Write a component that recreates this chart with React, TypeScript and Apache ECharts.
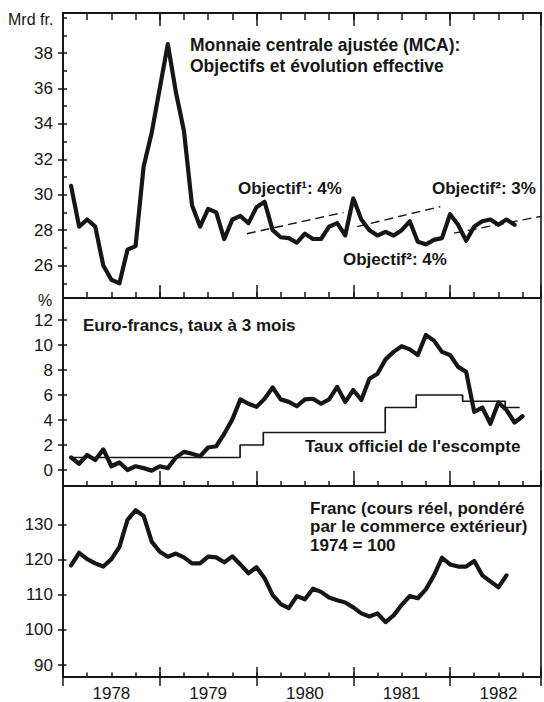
import { useEffect, useRef } from 'react';
import * as echarts from 'echarts';

// ---- Time axis (years, monthly observations at month end) ----
const X_MIN = 1978;
const X_MAX = 1982.94;
const FIRST_YEAR = 1978;
const YEAR_STEP = 1;
const QUARTER_STEP = 0.25;
const yearLabels = ['1978', '1979', '1980', '1981', '1982'];
const yearLabelPositions = [1978.5, 1979.5, 1980.5, 1981.5, 1982.5];

// ---- Panel 1: Monnaie centrale ajustée (Mrd fr.), Jan 1978 – Aug 1982 ----
const mcaValues = [
  30.5, 28.2, 28.6, 28.2, 26.0, 25.2, 25.0, 26.9, 27.1, 31.6, 33.5, 36.0,
  38.5, 35.8, 33.6, 29.4, 28.2, 29.2, 29.0, 27.5, 28.6, 28.8, 28.4, 29.3,
  29.6, 28.0, 27.6, 27.55, 27.3, 27.8, 27.5, 27.5, 28.2, 28.4, 27.7, 29.8,
  28.6, 28.0, 27.7, 27.9, 27.7, 28.0, 28.5, 27.35, 27.2, 27.45, 27.55, 28.9,
  28.3, 27.4, 28.2, 28.5, 28.6, 28.3, 28.6, 28.3,
];
const objectifDates = [
  [1979.9, 1980.9],
  [1981.04, 1981.9],
  [1982.04, 1982.94],
];
const objectifValues = [
  [27.8, 29.0],
  [28.2, 29.33],
  [27.83, 28.78],
];
const mcaLabelTicks = [26, 28, 30, 32, 34, 36, 38];
const mcaUnitTicks = [25, 26, 27, 28, 29, 30, 31, 32, 33, 34, 35, 36, 37, 38, 39, 40];

// ---- Panel 2: Euro-francs 3 mois (%), Jan 1978 – Sep 1982 ----
const euroValues = [
  1.0, 0.5, 1.2, 0.8, 1.65, 0.3, 0.6, 0.0, 0.3, 0.15, -0.05, 0.3,
  0.15, 1.0, 1.45, 1.3, 1.1, 1.8, 1.9, 2.9, 4.05, 5.65, 5.3, 5.05,
  5.7, 6.6, 5.65, 5.45, 5.1, 5.65, 5.7, 5.3, 5.65, 6.65, 5.45, 6.4,
  5.6, 7.3, 7.7, 8.85, 9.45, 9.9, 9.65, 9.2, 10.8, 10.35, 9.45, 9.2,
  8.25, 7.85, 4.65, 5.0, 3.7, 5.4, 4.8, 3.8, 4.3,
];
const escompteDates = [1978.09, 1979.83, 1980.07, 1981.33, 1981.65, 1982.13, 1982.57, 1982.72];
const escompteValues = [1, 2, 3, 5, 6, 5.5, 5, 5];
const euroTicks = [0, 2, 4, 6, 8, 10, 12];

// ---- Panel 3: Franc, cours réel (1974 = 100), Jan 1978 – Jul 1982 ----
const francValues = [
  118.3, 121.9, 120.1, 118.9, 118.0, 120.1, 123.6, 131.3, 134.0, 132.4, 125.1, 122.2,
  120.8, 121.7, 120.6, 118.9, 118.9, 120.8, 120.6, 119.2, 120.9, 118.6, 116.1, 117.8,
  114.7, 109.9, 107.3, 106.2, 109.6, 108.7, 111.7, 110.8, 109.2, 108.4, 107.8, 106.4,
  104.7, 103.8, 104.7, 102.2, 104.1, 107.1, 109.6, 109.0, 111.5, 115.5, 120.5, 118.6,
  118.0, 118.0, 119.6, 115.5, 113.8, 112.1, 115.5,
];
const francTicks = [90, 100, 110, 120, 130];

const INK = '#161616';
const FONT = '"Liberation Sans", Arial, Helvetica, sans-serif';

const monthly = (vals: number[]) => vals.map((v, i) => [FIRST_YEAR + (i + 1) / 12, v]);

export default function App() {
  const ref = useRef<HTMLDivElement>(null);
  useEffect(() => {
    if (!ref.current) return;
    const chart = echarts.init(ref.current, undefined, { renderer: 'svg' });

    const gridDefs = [
      { top: 13, height: 285 },
      { top: 298, height: 188 },
      { top: 486, height: 195 },
    ];
    const grid = gridDefs.map((g) => ({
      left: 63,
      right: 3,
      top: g.top,
      height: g.height,
      show: true,
      borderColor: INK,
      borderWidth: 1.6,
      backgroundColor: 'transparent',
    }));

    const axisLine = { show: true, onZero: false, lineStyle: { color: INK, width: 1.6 } };

    const xAx = (
      gridIndex: number,
      position: string,
      interval: number,
      len: number,
      inside: boolean,
      label = false
    ) => ({
      type: 'value',
      gridIndex,
      position,
      min: X_MIN,
      max: X_MAX,
      interval,
      axisLine,
      splitLine: { show: false },
      axisTick: len > 0
        ? { show: true, inside, length: len, lineStyle: { color: INK, width: 1.5 } }
        : { show: false },
      axisLabel: label
        ? {
            show: true,
            customValues: yearLabelPositions,
            formatter: (v: number) => yearLabels[yearLabelPositions.indexOf(v)] ?? '',
            fontSize: 17,
            fontFamily: FONT,
            color: INK,
            margin: 8,
          }
        : { show: false },
    });

    const xAxis = [
      xAx(0, 'bottom', QUARTER_STEP, 6, true), // 0 (series axis, panel 1)
      xAx(0, 'bottom', YEAR_STEP, 13, true), // 1
      xAx(0, 'top', QUARTER_STEP, 7, true), // 2
      xAx(0, 'top', YEAR_STEP, 13, true), // 3
      xAx(1, 'bottom', QUARTER_STEP, 5, true), // 4 (series axis, panel 2)
      xAx(1, 'bottom', YEAR_STEP, 15, true), // 5
      xAx(2, 'bottom', QUARTER_STEP, 4.5, true), // 6 (series axis, panel 3)
      xAx(2, 'bottom', YEAR_STEP, 10, true), // 7
      xAx(2, 'bottom', YEAR_STEP, 9, false), // 8
      xAx(2, 'bottom', YEAR_STEP, 0, false, true), // 9 labels
    ];

    const yAx = (
      gridIndex: number,
      min: number,
      max: number,
      ticks: number[],
      inside: boolean,
      len: number,
      label: boolean
    ) => ({
      type: 'value',
      gridIndex,
      position: 'left',
      min,
      max,
      axisLine,
      splitLine: { show: false },
      axisTick: { show: true, inside, length: len, customValues: ticks, lineStyle: { color: INK, width: 1.5 } },
      axisLabel: label
        ? { show: true, customValues: ticks, fontSize: 17, fontFamily: FONT, color: INK, margin: 10 }
        : { show: false },
    });

    const yAxis = [
      yAx(0, 24.17, 40.26, mcaLabelTicks, false, 5, true), // 0
      yAx(0, 24.17, 40.26, mcaUnitTicks, true, 4, false), // 1
      yAx(1, -1.28, 13.76, euroTicks, false, 5, true), // 2
      yAx(1, -1.28, 13.76, euroTicks, true, 4, false), // 3
      yAx(2, 86.6, 140.9, francTicks, false, 5, true), // 4
      yAx(2, 86.6, 140.9, francTicks, true, 3.5, false), // 5
    ];

    const thick = { color: INK, width: 4.2, cap: 'round', join: 'round' };

    const series: any[] = [
      {
        type: 'line',
        name: 'MCA',
        xAxisIndex: 0,
        yAxisIndex: 0,
        data: monthly(mcaValues),
        symbol: 'none',
        lineStyle: thick,
        z: 5,
      },
      ...objectifDates.map((d, k) => ({
        type: 'line',
        name: 'Objectif ' + (k + 1),
        xAxisIndex: 0,
        yAxisIndex: 0,
        data: [
          [d[0], objectifValues[k][0]],
          [d[1], objectifValues[k][1]],
        ],
        symbol: 'none',
        lineStyle: { color: INK, width: 1.4, type: [9, 5] },
        z: 3,
      })),
      {
        type: 'line',
        name: 'Euro-francs',
        xAxisIndex: 4,
        yAxisIndex: 2,
        data: monthly(euroValues),
        symbol: 'none',
        lineStyle: thick,
        z: 5,
      },
      {
        type: 'line',
        name: 'Taux officiel',
        xAxisIndex: 4,
        yAxisIndex: 2,
        step: 'end',
        data: escompteDates.map((d, i) => [d, escompteValues[i]]),
        symbol: 'none',
        lineStyle: { color: INK, width: 1.7 },
        z: 4,
      },
      {
        type: 'line',
        name: 'Franc',
        xAxisIndex: 6,
        yAxisIndex: 4,
        data: monthly(francValues),
        symbol: 'none',
        lineStyle: thick,
        z: 5,
      },
    ];

    const txt = (text: string, x: number, y: number, size: number, bold: boolean) => ({
      type: 'text',
      x,
      y,
      z: 10,
      style: {
        text,
        fill: INK,
        font: `${bold ? 'bold ' : ''}${size}px ${FONT}`,
        align: 'left',
        verticalAlign: 'middle',
        textAlign: 'left',
        textVerticalAlign: 'middle',
      },
    });

    const graphic = [
      txt('Mrd fr.', 8, 19.5, 16, false),
      txt('Monnaie centrale ajustée (MCA):', 190, 45, 17.5, true),
      txt('Objectifs et évolution effective', 190, 66, 17.5, true),
      txt('Objectif¹: 4%', 238, 188, 17, true),
      txt('Objectif²: 3%', 432, 188, 17, true),
      txt('Objectif²: 4%', 343, 259, 17, true),
      txt('%', 38, 300, 16, false),
      txt('Euro-francs, taux à 3 mois', 83, 325, 17, true),
      txt("Taux officiel de l'escompte", 305, 446, 17, true),
      txt('Franc (cours réel, pondéré', 310, 508, 17, true),
      txt('par le commerce extérieur)', 310, 526.5, 17, true),
      txt('1974 = 100', 310, 545, 17, true),
    ];

    chart.setOption({
      animation: false,
      backgroundColor: '#ffffff',
      grid,
      xAxis,
      yAxis,
      series,
      graphic,
    } as any);

    return () => chart.dispose();
  }, []);

  return (
    <div
      ref={ref}
      style={{ position: 'absolute', left: 0, top: 0, width: 544, height: 702, background: '#fff' }}
    />
  );
}
